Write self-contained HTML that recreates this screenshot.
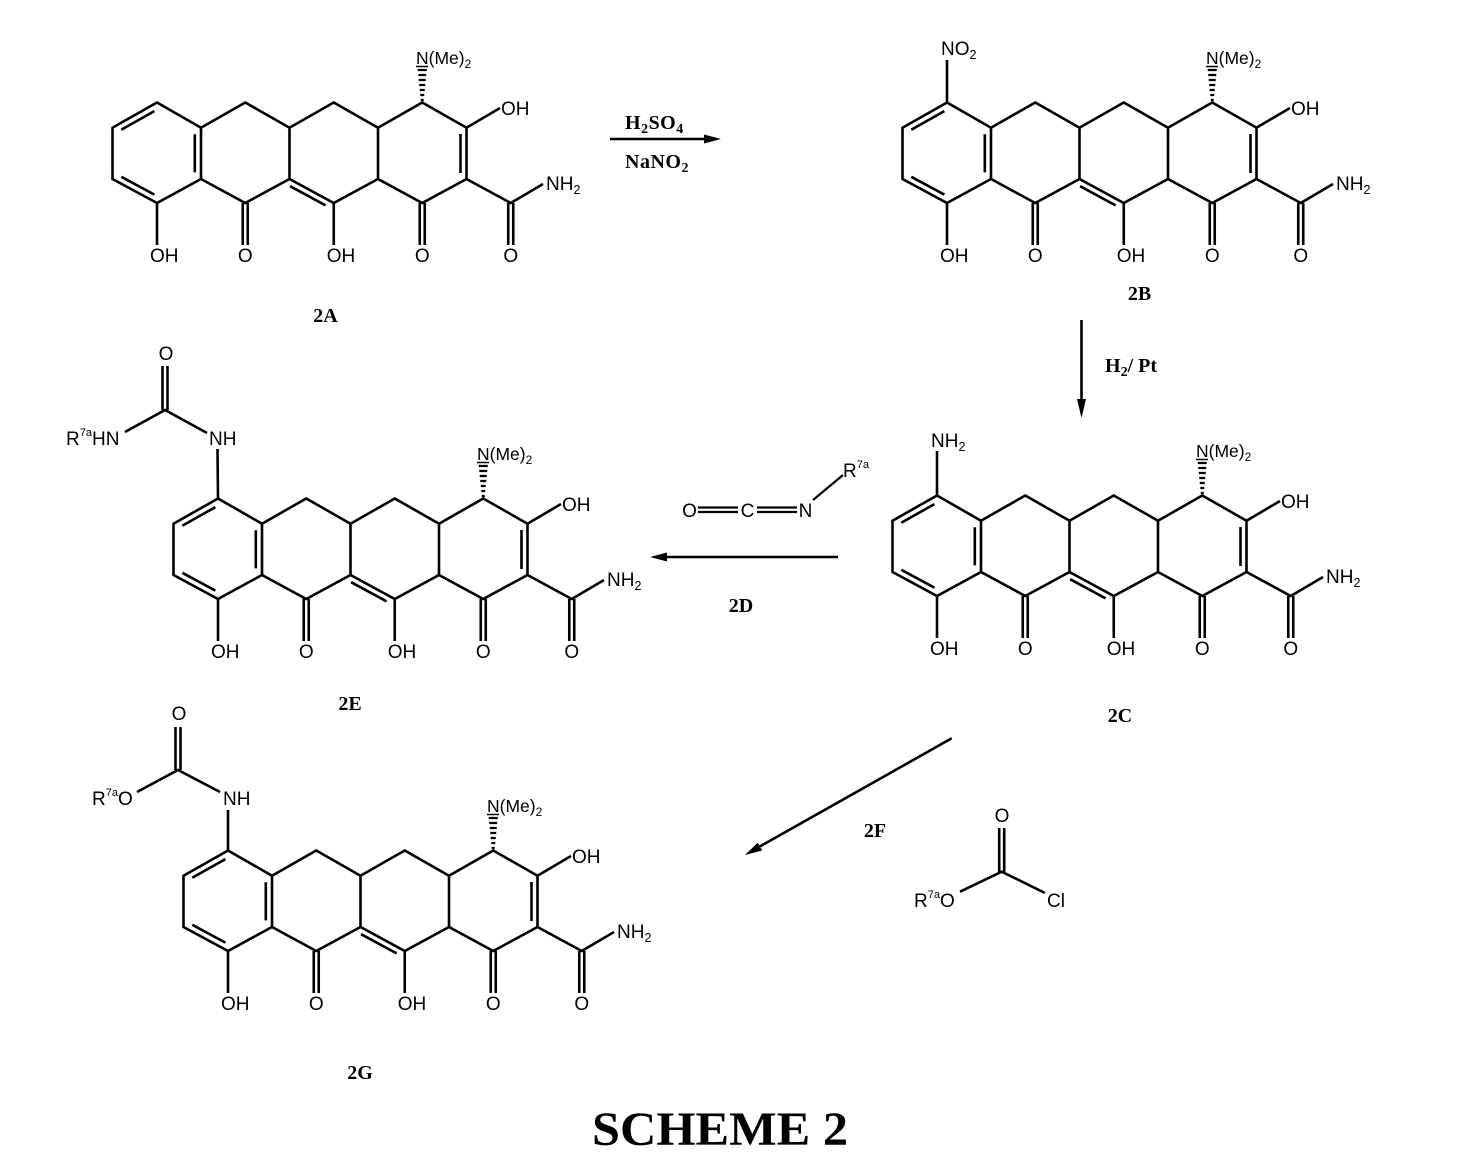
<!DOCTYPE html>
<html>
<head>
<meta charset="utf-8">
<style>
  html, body { margin:0; padding:0; background:#fff; }
  body { width:1476px; height:1169px; overflow:hidden; }
  svg { display:block; }
  .b { fill:none; stroke:#000; stroke-width:2.6; stroke-linejoin:miter; stroke-linecap:butt; }
  .h { fill:none; stroke:#000; stroke-width:2.2; }
  .s { font-family:"Liberation Sans", Arial, sans-serif; font-size:19px; fill:#000; }
  .n { font-family:"Liberation Sans", Arial, sans-serif; font-size:17.5px; fill:#000; }
  .t { font-family:"Liberation Serif", "Times New Roman", serif; font-size:20px; font-weight:bold; fill:#000; }
  .m { text-anchor:middle; }
</style>
</head>
<body>
<svg width="1476" height="1169" viewBox="0 0 1476 1169" xmlns="http://www.w3.org/2000/svg">

<!-- ============ 2A ============ -->
<g transform="translate(0,0)">
  <path class="b" d="M157,102.5 L112.5,127.7 L112.5,179 L157,203 L201,179 L201,127.7 Z
    M201,127.7 L245.25,102.5 L289.5,127.7 L289.5,179 L245.25,203 L201,179
    M289.5,127.7 L333.75,102.5 L378,127.7 L378,179 L333.75,203 L289.5,179
    M378,127.7 L422.25,102.5 L466.5,127.7 L466.5,179 L422.25,203 L378,179
    M466.5,179 L510.75,203 L543,184
    M466.5,127.7 L500,108
    M157,203 L157,245 M333.75,203 L333.75,245
    M242.75,203 L242.75,245 M247.75,203 L247.75,245
    M419.75,203 L419.75,245 M424.75,203 L424.75,245
    M508.25,203 L508.25,245 M513.25,203 L513.25,245
    M121.3,129.7 L154.4,111.1 M121.3,176.8 L154.4,194.6 M194.8,134.2 L194.8,172.4
    M290.1,186.2 L325.6,205.4 M460.5,134 L460.5,173"/>
  <path class="h" d="M417.75,70 h9 M418.25,75 h8 M418.75,80 h7 M419.25,85 h6 M419.75,90 h5 M420.25,95 h4 M420.75,100 h3"/>
  <path class="h" style="stroke-width:1.5" d="M416,66.5 h12"/>
  <text class="n" x="416" y="64">N(Me)<tspan font-size="12" dy="4">2</tspan></text>
  <text class="s" x="501" y="115">OH</text>
  <text class="s" x="546" y="190">NH<tspan font-size="12.5" dy="4">2</tspan></text>
  <text class="s" x="150" y="262">OH</text>
  <text class="s m" x="245.25" y="262">O</text>
  <text class="s" x="326.75" y="262">OH</text>
  <text class="s m" x="422.25" y="262">O</text>
  <text class="s m" x="510.75" y="262">O</text>
</g>

<!-- ============ 2B ============ -->
<g transform="translate(790,0)">
  <path class="b" d="M157,102.5 L112.5,127.7 L112.5,179 L157,203 L201,179 L201,127.7 Z
    M201,127.7 L245.25,102.5 L289.5,127.7 L289.5,179 L245.25,203 L201,179
    M289.5,127.7 L333.75,102.5 L378,127.7 L378,179 L333.75,203 L289.5,179
    M378,127.7 L422.25,102.5 L466.5,127.7 L466.5,179 L422.25,203 L378,179
    M466.5,179 L510.75,203 L543,184
    M466.5,127.7 L500,108
    M157,203 L157,245 M333.75,203 L333.75,245
    M242.75,203 L242.75,245 M247.75,203 L247.75,245
    M419.75,203 L419.75,245 M424.75,203 L424.75,245
    M508.25,203 L508.25,245 M513.25,203 L513.25,245
    M121.3,129.7 L154.4,111.1 M121.3,176.8 L154.4,194.6 M194.8,134.2 L194.8,172.4
    M290.1,186.2 L325.6,205.4 M460.5,134 L460.5,173
    M157,102.5 L157,60"/>
  <path class="h" d="M417.75,70 h9 M418.25,75 h8 M418.75,80 h7 M419.25,85 h6 M419.75,90 h5 M420.25,95 h4 M420.75,100 h3"/>
  <path class="h" style="stroke-width:1.5" d="M416,66.5 h12"/>
  <text class="n" x="416" y="64">N(Me)<tspan font-size="12" dy="4">2</tspan></text>
  <text class="s" x="151" y="55">NO<tspan font-size="12.5" dy="4">2</tspan></text>
  <text class="s" x="501" y="115">OH</text>
  <text class="s" x="546" y="190">NH<tspan font-size="12.5" dy="4">2</tspan></text>
  <text class="s" x="150" y="262">OH</text>
  <text class="s m" x="245.25" y="262">O</text>
  <text class="s" x="326.75" y="262">OH</text>
  <text class="s m" x="422.25" y="262">O</text>
  <text class="s m" x="510.75" y="262">O</text>
</g>

<!-- ============ 2C ============ -->
<g transform="translate(780,393)">
  <path class="b" d="M157,102.5 L112.5,127.7 L112.5,179 L157,203 L201,179 L201,127.7 Z
    M201,127.7 L245.25,102.5 L289.5,127.7 L289.5,179 L245.25,203 L201,179
    M289.5,127.7 L333.75,102.5 L378,127.7 L378,179 L333.75,203 L289.5,179
    M378,127.7 L422.25,102.5 L466.5,127.7 L466.5,179 L422.25,203 L378,179
    M466.5,179 L510.75,203 L543,184
    M466.5,127.7 L500,108
    M157,203 L157,245 M333.75,203 L333.75,245
    M242.75,203 L242.75,245 M247.75,203 L247.75,245
    M419.75,203 L419.75,245 M424.75,203 L424.75,245
    M508.25,203 L508.25,245 M513.25,203 L513.25,245
    M121.3,129.7 L154.4,111.1 M121.3,176.8 L154.4,194.6 M194.8,134.2 L194.8,172.4
    M290.1,186.2 L325.6,205.4 M460.5,134 L460.5,173
    M157,102.5 L157,58"/>
  <path class="h" d="M417.75,70 h9 M418.25,75 h8 M418.75,80 h7 M419.25,85 h6 M419.75,90 h5 M420.25,95 h4 M420.75,100 h3"/>
  <path class="h" style="stroke-width:1.5" d="M416,66.5 h12"/>
  <text class="n" x="416" y="64">N(Me)<tspan font-size="12" dy="4">2</tspan></text>
  <text class="s" x="151" y="54">NH<tspan font-size="12.5" dy="4">2</tspan></text>
  <text class="s" x="501" y="115">OH</text>
  <text class="s" x="546" y="190">NH<tspan font-size="12.5" dy="4">2</tspan></text>
  <text class="s" x="150" y="262">OH</text>
  <text class="s m" x="245.25" y="262">O</text>
  <text class="s" x="326.75" y="262">OH</text>
  <text class="s m" x="422.25" y="262">O</text>
  <text class="s m" x="510.75" y="262">O</text>
</g>

<!-- ============ 2E ============ -->
<g transform="translate(61,396)">
  <path class="b" d="M157,102.5 L112.5,127.7 L112.5,179 L157,203 L201,179 L201,127.7 Z
    M201,127.7 L245.25,102.5 L289.5,127.7 L289.5,179 L245.25,203 L201,179
    M289.5,127.7 L333.75,102.5 L378,127.7 L378,179 L333.75,203 L289.5,179
    M378,127.7 L422.25,102.5 L466.5,127.7 L466.5,179 L422.25,203 L378,179
    M466.5,179 L510.75,203 L543,184
    M466.5,127.7 L500,108
    M157,203 L157,245 M333.75,203 L333.75,245
    M242.75,203 L242.75,245 M247.75,203 L247.75,245
    M419.75,203 L419.75,245 M424.75,203 L424.75,245
    M508.25,203 L508.25,245 M513.25,203 L513.25,245
    M121.3,129.7 L154.4,111.1 M121.3,176.8 L154.4,194.6 M194.8,134.2 L194.8,172.4
    M290.1,186.2 L325.6,205.4 M460.5,134 L460.5,173
    M157,102.5 L156.5,53"/>
  <path class="h" d="M417.75,70 h9 M418.25,75 h8 M418.75,80 h7 M419.25,85 h6 M419.75,90 h5 M420.25,95 h4 M420.75,100 h3"/>
  <path class="h" style="stroke-width:1.5" d="M416,66.5 h12"/>
  <text class="n" x="416" y="64">N(Me)<tspan font-size="12" dy="4">2</tspan></text>
  <text class="s" x="501" y="115">OH</text>
  <text class="s" x="546" y="190">NH<tspan font-size="12.5" dy="4">2</tspan></text>
  <text class="s" x="150" y="262">OH</text>
  <text class="s m" x="245.25" y="262">O</text>
  <text class="s" x="326.75" y="262">OH</text>
  <text class="s m" x="422.25" y="262">O</text>
  <text class="s m" x="510.75" y="262">O</text>
</g>
<!-- 2E urea -->
<path class="b" d="M125,432 L165,410 L207,433 M162.5,410 L162.5,366 M167.5,410 L167.5,366"/>
<text class="s m" x="166" y="360">O</text>
<text class="s" x="209" y="445">NH</text>
<text class="s" x="66" y="445">R<tspan font-size="11" dy="-9">7a</tspan><tspan dy="9">HN</tspan></text>

<!-- ============ 2G ============ -->
<g transform="translate(71,748)">
  <path class="b" d="M157,102.5 L112.5,127.7 L112.5,179 L157,203 L201,179 L201,127.7 Z
    M201,127.7 L245.25,102.5 L289.5,127.7 L289.5,179 L245.25,203 L201,179
    M289.5,127.7 L333.75,102.5 L378,127.7 L378,179 L333.75,203 L289.5,179
    M378,127.7 L422.25,102.5 L466.5,127.7 L466.5,179 L422.25,203 L378,179
    M466.5,179 L510.75,203 L543,184
    M466.5,127.7 L500,108
    M157,203 L157,245 M333.75,203 L333.75,245
    M242.75,203 L242.75,245 M247.75,203 L247.75,245
    M419.75,203 L419.75,245 M424.75,203 L424.75,245
    M508.25,203 L508.25,245 M513.25,203 L513.25,245
    M121.3,129.7 L154.4,111.1 M121.3,176.8 L154.4,194.6 M194.8,134.2 L194.8,172.4
    M290.1,186.2 L325.6,205.4 M460.5,134 L460.5,173
    M157,102.5 L157,62"/>
  <path class="h" d="M417.75,70 h9 M418.25,75 h8 M418.75,80 h7 M419.25,85 h6 M419.75,90 h5 M420.25,95 h4 M420.75,100 h3"/>
  <path class="h" style="stroke-width:1.5" d="M416,66.5 h12"/>
  <text class="n" x="416" y="64">N(Me)<tspan font-size="12" dy="4">2</tspan></text>
  <text class="s" x="501" y="115">OH</text>
  <text class="s" x="546" y="190">NH<tspan font-size="12.5" dy="4">2</tspan></text>
  <text class="s" x="150" y="262">OH</text>
  <text class="s m" x="245.25" y="262">O</text>
  <text class="s" x="326.75" y="262">OH</text>
  <text class="s m" x="422.25" y="262">O</text>
  <text class="s m" x="510.75" y="262">O</text>
</g>
<!-- 2G carbamate -->
<path class="b" d="M137,792 L178,770 L220,792 M175.5,770 L175.5,727 M180.5,770 L180.5,727"/>
<text class="s m" x="179" y="720">O</text>
<text class="s" x="223" y="805">NH</text>
<text class="s" x="92" y="805">R<tspan font-size="11" dy="-9">7a</tspan><tspan dy="9">O</tspan></text>

<!-- ============ Reagent: isocyanate ============ -->
<path class="b" style="stroke-width:2.2" d="M698,507.5 L738,507.5 M698,512 L738,512 M757,507.5 L797,507.5 M757,512 L797,512 M813,500 L843,475"/>
<text class="s m" x="689.5" y="517">O</text>
<text class="s m" x="747.5" y="517">C</text>
<text class="s m" x="805.5" y="517">N</text>
<text class="s" x="843" y="477">R<tspan font-size="11" dy="-9">7a</tspan></text>

<!-- ============ Reagent: chloroformate ============ -->
<path class="b" d="M960,891.7 L1001.7,871.7 L1045,893 M999.2,871.7 L999.2,828 M1004.2,871.7 L1004.2,828"/>
<text class="s m" x="1002" y="822">O</text>
<text class="s" x="914" y="907">R<tspan font-size="11" dy="-9">7a</tspan><tspan dy="9">O</tspan></text>
<text class="s" x="1047" y="907">Cl</text>

<!-- ============ Arrows ============ -->
<path class="b" d="M610,139 L706,139"/>
<polygon points="721,139 704,134.5 704,143.5" fill="#000"/>
<path class="b" d="M1081.5,320 L1081.5,402"/>
<polygon points="1081.5,418 1077,399 1086,399" fill="#000"/>
<path class="b" d="M838,557 L665,557"/>
<polygon points="650,557 667,552.5 667,561.5" fill="#000"/>
<path class="b" d="M951.7,738.3 L758,847.5"/>
<polygon points="745,855 762.2,850.5 757.6,842.7" fill="#000"/>

<!-- ============ Reaction labels ============ -->
<text class="t" x="625" y="129" letter-spacing="0.5">H<tspan font-size="14" dy="4">2</tspan><tspan dy="-4">SO</tspan><tspan font-size="14" dy="4">4</tspan></text>
<text class="t" x="625" y="168" letter-spacing="0.5">NaNO<tspan font-size="14" dy="4">2</tspan></text>
<text class="t" x="1105" y="372">H<tspan font-size="14" dy="4">2</tspan><tspan dy="-4">/ Pt</tspan></text>
<text class="t m" x="741" y="612">2D</text>
<text class="t m" x="875" y="837">2F</text>

<!-- ============ Compound labels ============ -->
<text class="t m" x="325.5" y="322">2A</text>
<text class="t m" x="1139.5" y="300">2B</text>
<text class="t m" x="1120" y="722">2C</text>
<text class="t m" x="350" y="710">2E</text>
<text class="t m" x="360" y="1079">2G</text>

<!-- ============ Title ============ -->
<text x="720" y="1145" text-anchor="middle" font-family="'Liberation Serif', 'Times New Roman', serif" font-weight="bold" font-size="48" textLength="256" lengthAdjust="spacingAndGlyphs">SCHEME 2</text>

</svg>
</body>
</html>
